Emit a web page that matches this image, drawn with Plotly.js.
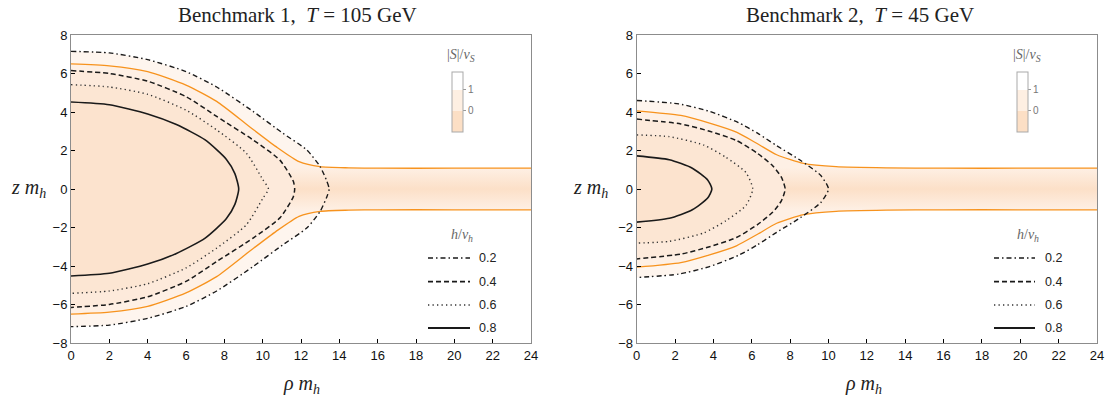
<!DOCTYPE html>
<html><head><meta charset="utf-8">
<script src="https://cdn.plot.ly/plotly-3.0.1.min.js"></script>
<style>html,body{margin:0;padding:0;background:#fff}</style>
</head><body>
<div id="chart" style="width:1111px;height:398px"></div>
<script>
// ---------- data (upper half of each contour; figure is symmetric in z) ----------
// Benchmark 1
const b1_h02_rho = [0, 2, 4, 6, 7.6, 9.5, 11.05, 12.3, 13, 13.35, 13.47];
const b1_h02_z   = [7.15, 7.07, 6.72, 6.1, 5.3, 4.03, 2.9, 2.03, 1.16, 0.4, 0];
const b1_h04_rho = [0, 2, 4, 6, 7.6, 9.5, 10.9, 11.6, 11.67];
const b1_h04_z   = [6.15, 6.0, 5.6, 4.8, 3.77, 2.55, 1.5, 0.4, 0];
const b1_h06_rho = [0, 2, 4, 6, 7.6, 9.15, 10, 10.3];
const b1_h06_z   = [5.42, 5.3, 4.92, 4.1, 3.07, 1.86, 0.5, 0];
const b1_h08_rho = [0, 2, 4, 5.5, 7, 8.1, 8.55, 8.75];
const b1_h08_z   = [4.52, 4.38, 3.9, 3.35, 2.55, 1.55, 0.8, 0];
const b1_S_rho   = [0, 2, 4, 6, 7.6, 9.3, 10.7, 11.9, 13, 14.5, 16, 20, 24];
const b1_S_z     = [6.5, 6.4, 6.1, 5.4, 4.55, 3.25, 2.2, 1.42, 1.16, 1.1, 1.08, 1.08, 1.08];
// Benchmark 2
const b2_h02_rho = [0, 2.2, 3.8, 5.3, 6.3, 7.3, 8.55, 9.6, 10.0];
const b2_h02_z   = [4.6, 4.42, 4.03, 3.45, 2.9, 2.25, 1.48, 0.7, 0];
const b2_h04_rho = [0, 2.3, 3.8, 5.2, 6.3, 7.1, 7.55, 7.74];
const b2_h04_z   = [3.63, 3.38, 3.0, 2.52, 1.85, 1.2, 0.6, 0];
const b2_h06_rho = [0, 1.7, 3.5, 4.65, 5.7, 6.05];
const b2_h06_z   = [2.81, 2.72, 2.28, 1.65, 0.85, 0];
const b2_h08_rho = [0, 1.7, 2.9, 3.7, 3.92];
const b2_h08_z   = [1.72, 1.52, 1.08, 0.47, 0];
const b2_S_rho   = [0, 2.3, 3.8, 5.2, 6.3, 7.3, 8.7, 10.4, 13, 16, 20, 24];
const b2_S_z     = [4.06, 3.82, 3.42, 2.95, 2.35, 1.78, 1.33, 1.16, 1.1, 1.08, 1.08, 1.08];

const titles = ['Benchmark 1,\u00a0\u00a0<i>T</i> = 105 GeV', 'Benchmark 2,\u00a0\u00a0<i>T</i> = 45 GeV'];
const legendLevels = ['0.2', '0.4', '0.6', '0.8'];
const cbTickVals = [0, 1];
const cbRange = [-1.04, 1.87];

// ---------- layout geometry ----------
const W = 1111, H = 398, ML = 71, MR = 14, MT = 35, MB = 55;
const PW = W - ML - MR, PH = H - MT - MB;
const fx = p => (p - ML) / PW;
const fy = p => (H - MB - p) / PH;

const BLACK = '#1a1a1a', ORANGE = '#f7931e';
const styles = [
  {dash: '5px,3px,1.5px,3px', color: BLACK, width: 1.4},
  {dash: '5px,3px', color: BLACK, width: 1.5},
  {dash: '1.3px,3.2px', color: '#333', width: 1.4},
  {dash: 'solid', color: BLACK, width: 1.6}
];
const SPL = {shape: 'spline', smoothing: 0.6};

function bubble(r, z) { // closed curve through upper half and its mirror
  const rl = r.slice(0, -1).reverse();
  const zl = z.slice(0, -1).reverse().map(v => -v);
  return {x: r.concat(rl), y: z.concat(zl)};
}

const panels = [
  {xa: 'x', ya: 'y', h: [[b1_h02_rho, b1_h02_z], [b1_h04_rho, b1_h04_z], [b1_h06_rho, b1_h06_z], [b1_h08_rho, b1_h08_z]], S: [b1_S_rho, b1_S_z]},
  {xa: 'x2', ya: 'y2', h: [[b2_h02_rho, b2_h02_z], [b2_h04_rho, b2_h04_z], [b2_h06_rho, b2_h06_z], [b2_h08_rho, b2_h08_z]], S: [b2_S_rho, b2_S_z]}
];

const fillCols = ['#fef5ee', '#fdeadb', '#fce6d3', '#fce3ce'];
const traces = [];
panels.forEach(p => {
  const base = {xaxis: p.xa, yaxis: p.ya, showlegend: false, hoverinfo: 'skip', mode: 'lines'};
  // halo: inside h=0.2
  const c0 = bubble(p.h[0][0], p.h[0][1]);
  traces.push(Object.assign({}, base, {x: c0.x, y: c0.y, fill: 'toself', fillcolor: fillCols[0], line: Object.assign({width: 0}, SPL)}));
  // singlet region between the two |S| contour branches, vertical gradient
  const lowZ = p.S[1].map(v => -v);
  traces.push(Object.assign({}, base, {x: p.S[0], y: lowZ, line: Object.assign({width: 0}, SPL)}));
  traces.push(Object.assign({}, base, {x: p.S[0], y: p.S[1], fill: 'tonexty', line: Object.assign({width: 0}, SPL),
    fillgradient: {type: 'vertical', start: -1.12, stop: 1.12,
      colorscale: [[0, '#fef0e5'], [0.5, '#fce0c8'], [1, '#fef0e5']]}}));
  // inner fills
  for (let k = 1; k < 4; k++) {
    const c = bubble(p.h[k][0], p.h[k][1]);
    traces.push(Object.assign({}, base, {x: c.x, y: c.y, fill: 'toself', fillcolor: fillCols[k], line: Object.assign({width: 0}, SPL)}));
  }
  // orange |S| contour lines (upper and lower branch)
  traces.push(Object.assign({}, base, {x: p.S[0], y: p.S[1], line: Object.assign({color: ORANGE, width: 1.3}, SPL)}));
  traces.push(Object.assign({}, base, {x: p.S[0], y: lowZ, line: Object.assign({color: ORANGE, width: 1.3}, SPL)}));
  // h contours
  p.h.forEach((hc, k) => {
    const c = bubble(hc[0], hc[1]);
    traces.push(Object.assign({}, base, {x: c.x, y: c.y, line: Object.assign({color: styles[k].color, width: styles[k].width, dash: styles[k].dash}, SPL)}));
  });
});

// colour bars (|S|/v_S)
const b0 = (0 - cbRange[0]) / (cbRange[1] - cbRange[0]);
const b1 = (1 - cbRange[0]) / (cbRange[1] - cbRange[0]);
const cbScale = [[0, '#fcdfc5'], [b0, '#fcdfc5'], [b0, '#feefe2'], [b1, '#feefe2'], [b1, '#ffffff'], [1, '#ffffff']];
[['x', 'y', 451.7], ['x2', 'y2', 1017.3]].forEach(([xa, ya, px]) => {
  traces.push({type: 'scatter', mode: 'markers', x: [40], y: [0], xaxis: xa, yaxis: ya, showlegend: false, hoverinfo: 'skip',
    marker: {color: [0], cmin: cbRange[0], cmax: cbRange[1], colorscale: cbScale, showscale: true,
      colorbar: {x: fx(px), xanchor: 'left', y: fy(72), yanchor: 'top', len: 60, lenmode: 'pixels',
        thickness: 11, thicknessmode: 'pixels', xpad: 0, ypad: 0, outlinewidth: 1, outlinecolor: '#a9a9a9',
        borderwidth: 0, tickvals: cbTickVals, ticktext: cbTickVals.map(String), ticks: 'outside', ticklen: 3,
        tickcolor: '#999', tickfont: {family: 'Liberation Sans', size: 10, color: '#777'}}}});
});

// ---------- annotations and legend shapes ----------
const serif = 'Liberation Serif';
const ann = [];
const shapes = [];
const titleX = [297, 860], zLabX = [28, 590], rLabX = [301, 863];
const cbTitleX = [461, 1027], legTitleX = [462, 1028], legX0 = [428, 994], legX1 = [470, 1035], legTextX = [477, 1043];
const legY = [258, 281.7, 305, 328];
for (let i = 0; i < 2; i++) {
  ann.push({xref: 'paper', yref: 'paper', x: fx(titleX[i]), y: fy(15), text: titles[i], showarrow: false,
    xanchor: 'center', yanchor: 'middle', font: {family: serif, size: 21, color: '#222'}});
  ann.push({xref: 'paper', yref: 'paper', x: fx(zLabX[i]), y: fy(188), text: '<i>z m</i><sub><i>h</i></sub>', showarrow: false,
    xanchor: 'center', yanchor: 'middle', font: {family: serif, size: 20, color: '#222'}});
  ann.push({xref: 'paper', yref: 'paper', x: fx(rLabX[i]), y: fy(385), text: '<i>ρ m</i><sub><i>h</i></sub>', showarrow: false,
    xanchor: 'center', yanchor: 'middle', font: {family: serif, size: 20, color: '#222'}});
  ann.push({xref: 'paper', yref: 'paper', x: fx(cbTitleX[i]), y: fy(55), text: '|<i>S</i>|/<i>v</i><sub><i>S</i></sub>', showarrow: false,
    xanchor: 'center', yanchor: 'middle', font: {family: serif, size: 14, color: '#666'}});
  ann.push({xref: 'paper', yref: 'paper', x: fx(legTitleX[i]), y: fy(235), text: '<i>h</i>/<i>v</i><sub><i>h</i></sub>', showarrow: false,
    xanchor: 'center', yanchor: 'middle', font: {family: serif, size: 14, color: '#666'}});
  legendLevels.forEach((lab, k) => {
    shapes.push({type: 'line', xref: 'paper', yref: 'paper', x0: fx(legX0[i]), x1: fx(legX1[i]), y0: fy(legY[k]), y1: fy(legY[k]),
      line: {color: styles[k].color, width: styles[k].width + (k === 3 ? 0.4 : 0.2), dash: styles[k].dash}});
    ann.push({xref: 'paper', yref: 'paper', x: fx(legTextX[i]), y: fy(legY[k]), text: lab, showarrow: false,
      xanchor: 'left', yanchor: 'middle', font: {family: 'Liberation Sans', size: 12.5, color: '#222'}});
  });
}

const axBase = {showgrid: false, zeroline: false, showline: true, linecolor: '#8c8c8c', linewidth: 1, mirror: true,
  ticks: 'inside', ticklen: 4, tickwidth: 1, tickcolor: '#000', tickfont: {family: 'Liberation Sans', size: 13, color: '#111'}};
const layout = {
  width: W, height: H, margin: {l: ML, r: MR, t: MT, b: MB}, paper_bgcolor: '#fff', plot_bgcolor: '#fff',
  showlegend: false,
  xaxis: Object.assign({}, axBase, {domain: [0, fx(531)], range: [0, 24], dtick: 2, tick0: 0, anchor: 'y'}),
  yaxis: Object.assign({}, axBase, {domain: [0, 1], range: [-8, 8], dtick: 2, tick0: 0, anchor: 'x'}),
  xaxis2: Object.assign({}, axBase, {domain: [fx(636.7), 1], range: [0, 24], dtick: 2, tick0: 0, anchor: 'y2'}),
  yaxis2: Object.assign({}, axBase, {domain: [0, 1], range: [-8, 8], dtick: 2, tick0: 0, anchor: 'x2'}),
  annotations: ann, shapes: shapes
};
Plotly.newPlot('chart', traces, layout, {displayModeBar: false, staticPlot: true});
</script>
</body></html>
